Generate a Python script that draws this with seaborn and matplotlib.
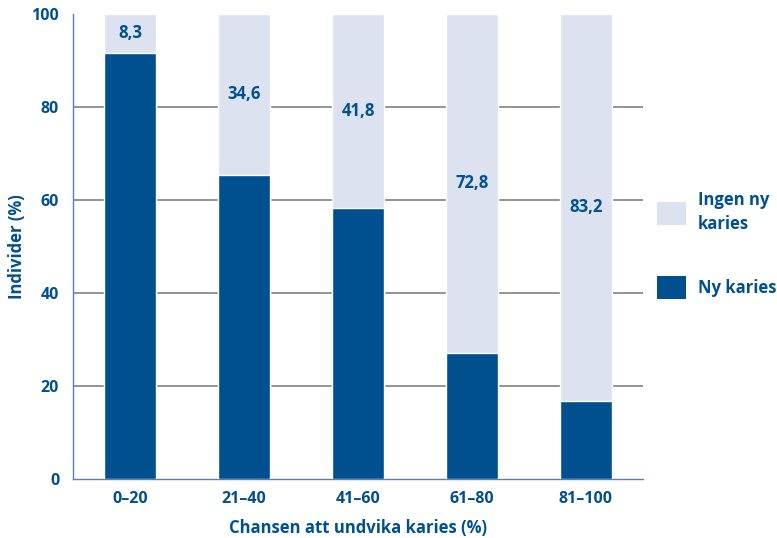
import pandas as pd
import matplotlib.pyplot as plt
import seaborn as sns
from matplotlib.patches import Patch

# data
categories = ['0–20', '21–40', '41–60', '61–80', '81–100']
ingen_ny_karies = [8.3, 34.6, 41.8, 72.8, 83.2]
label_texts = ['8,3', '34,6', '41,8', '72,8', '83,2']
y_ticks = [0, 20, 40, 60, 80, 100]

DARK  = '#00508f'
LIGHT = '#dce2ef'
GRID  = '#8a8a8a'

df = pd.DataFrame({'kat': categories, 'ingen': ingen_ny_karies})
df['ny'] = 100 - df['ingen']
df['total'] = 100

sns.set_style('white')
plt.rcParams['font.family'] = ['Open Sans', 'DejaVu Sans']

fig = plt.figure(figsize=(7.77, 5.38), dpi=100)
ax = fig.add_axes([0.094, 0.1097, 0.7335, 0.8643])

sns.barplot(data=df, x='kat', y='total', color=LIGHT, width=0.46,
            saturation=1, ax=ax, zorder=2)
sns.barplot(data=df, x='kat', y='ny', color=DARK, width=0.46,
            saturation=1, ax=ax, zorder=3)

# value labels in the middle of the light segment
for i, (ingen, txt) in enumerate(zip(ingen_ny_karies, label_texts)):
    ax.text(i, 100 - ingen / 2, txt, ha='center', va='center',
            fontsize=12, fontweight='bold', color=DARK, zorder=4)

ax.set_xlim(-0.5, 4.5)
ax.set_ylim(0, 100)
ax.set_yticks(y_ticks)
ax.yaxis.grid(True, color=GRID, linewidth=1.3, zorder=0)
ax.set_axisbelow(True)
gl = ax.yaxis.get_gridlines()
gl[0].set_visible(False)
gl[-1].set_visible(False)

ax.tick_params(axis='both', length=0, labelsize=11.5, labelcolor=DARK)
ax.tick_params(axis='y', pad=10)
ax.tick_params(axis='x', pad=9)
for lbl in ax.get_xticklabels() + ax.get_yticklabels():
    lbl.set_fontweight('bold')

ax.set_xlabel('Chansen att undvika karies (%)', fontsize=12,
              fontweight='bold', color=DARK, labelpad=8)
ax.set_ylabel('Individer (%)', fontsize=12, fontweight='bold',
              color=DARK, labelpad=4)

for side in ['top', 'right']:
    ax.spines[side].set_visible(False)
ax.spines['left'].set_color('#5a7fb2')
ax.spines['left'].set_linewidth(1)
ax.spines['bottom'].set_color('#5a7fb2')
ax.spines['bottom'].set_linewidth(1)

handles = [Patch(facecolor=LIGHT, edgecolor='none'),
           Patch(facecolor=DARK, edgecolor='none')]
leg = fig.legend(handles, ['Ingen ny\nkaries', 'Ny karies'],
                 loc='upper left', bbox_to_anchor=(0.826, 0.673),
                 frameon=False, handlelength=1.75, handleheight=1.75,
                 handletextpad=0.7, labelspacing=2.6,
                 prop={'size': 12, 'weight': 'bold'})
for t in leg.get_texts():
    t.set_color(DARK)
    t.set_linespacing(1.4)

plt.savefig('out.png', dpi=100)
